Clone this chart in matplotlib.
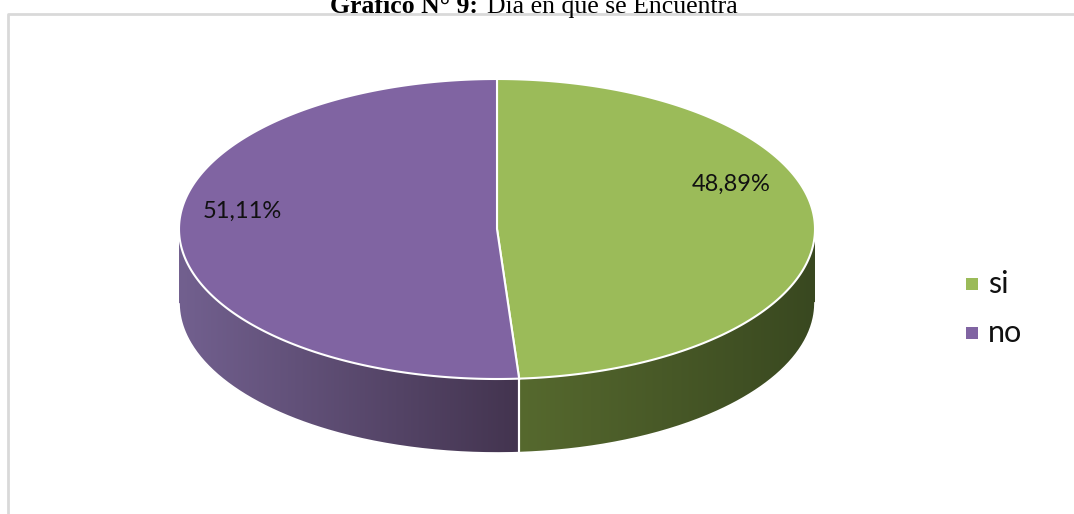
import numpy as np
import matplotlib.pyplot as plt
from matplotlib.patches import Polygon, Rectangle
from matplotlib.colors import LinearSegmentedColormap

# data
labels = ['si', 'no']
values = [48.89, 51.11]
top_colors = ['#9bbb59', '#8064a2']
side_colors = [('#56692e', '#394820'), ('#72608f', '#43344f')]
value_texts = ['48,89%', '51,11%']

# pie geometry in pixel units
CX, CY = 497, 229
RX, RY = 318, 150
DEPTH = 74
LABEL_FONT = ['Lato', 'DejaVu Sans']

fig = plt.figure(figsize=(10.74, 5.14), dpi=100)
ax = fig.add_axes([0, 0, 1, 1])
ax.set_xlim(0, 1074)
ax.set_ylim(514, 0)
ax.axis('off')


def ell(t):
    return CX + RX * np.cos(t), CY - RY * np.sin(t)


# slice angles: start at top, go clockwise
fracs = np.array(values) / sum(values)
starts = np.pi / 2 - 2 * np.pi * np.concatenate([[0], np.cumsum(fracs)[:-1]])
ends = starts - 2 * np.pi * fracs

# side walls (only the front half, sin(t) < 0)
for i in range(len(values)):
    a0, a1 = ends[i], starts[i]
    ts = np.linspace(a0, a1, 400)
    ts = ts[np.sin(ts) <= 0.001]
    if len(ts) < 2:
        continue
    x, y = ell(ts)
    poly = np.vstack([np.column_stack([x, y]),
                      np.column_stack([x[::-1], y[::-1] + DEPTH])])
    p = Polygon(poly, closed=True, facecolor='none', edgecolor='none')
    ax.add_patch(p)
    cmap = LinearSegmentedColormap.from_list('s', side_colors[i])
    grad = np.linspace(0, 1, 256).reshape(1, -1)
    im = ax.imshow(grad, cmap=cmap, aspect='auto',
                   extent=[x.min(), x.max(), y.max() + DEPTH, y.min()],
                   zorder=1)
    im.set_clip_path(p)
    ax.plot(x, y + DEPTH, color='white', lw=1.2, zorder=2)
    # vertical edge at slice boundaries in front
    for a in (a0, a1):
        if np.sin(a) < 0:
            ex, ey = ell(a)
            ax.plot([ex, ex], [ey, ey + DEPTH], color='white', lw=1.5, zorder=2)

# top faces
for i in range(len(values)):
    ts = np.linspace(starts[i], ends[i], 400)
    x, y = ell(ts)
    poly = np.vstack([[CX, CY], np.column_stack([x, y])])
    ax.add_patch(Polygon(poly, closed=True, facecolor=top_colors[i],
                         edgecolor='white', lw=1.5, zorder=3))

# value labels
label_pos = [(731, 184), (242, 211)]
for (lx, ly), txt in zip(label_pos, value_texts):
    ax.text(lx, ly, txt, ha='center', va='center', fontsize=17,
            family=LABEL_FONT, color='#111111', zorder=4)

# legend
for k, (lab, col) in enumerate(zip(labels, top_colors)):
    ly = 284 + k * 49
    ax.add_patch(Rectangle((966, ly - 6), 12, 12, facecolor=col,
                           edgecolor='none'))
    ax.text(988, ly, lab, ha='left', va='center', fontsize=22,
            family=LABEL_FONT, color='#111111')

# frame
ax.plot([8, 8, 1074], [514, 13.5, 13.5], color='#d9d9d9', lw=2, zorder=0)

# title (cut off at top, as in the original)
ax.text(330, 13, 'Gráfico N° 9:', ha='left', va='baseline', fontsize=18.5,
        family='Liberation Serif', weight='bold')
ax.text(487, 13, 'Día en que se Encuentra', ha='left', va='baseline',
        fontsize=18.5, family='Liberation Serif')

fig.savefig('out.png', dpi=100)
